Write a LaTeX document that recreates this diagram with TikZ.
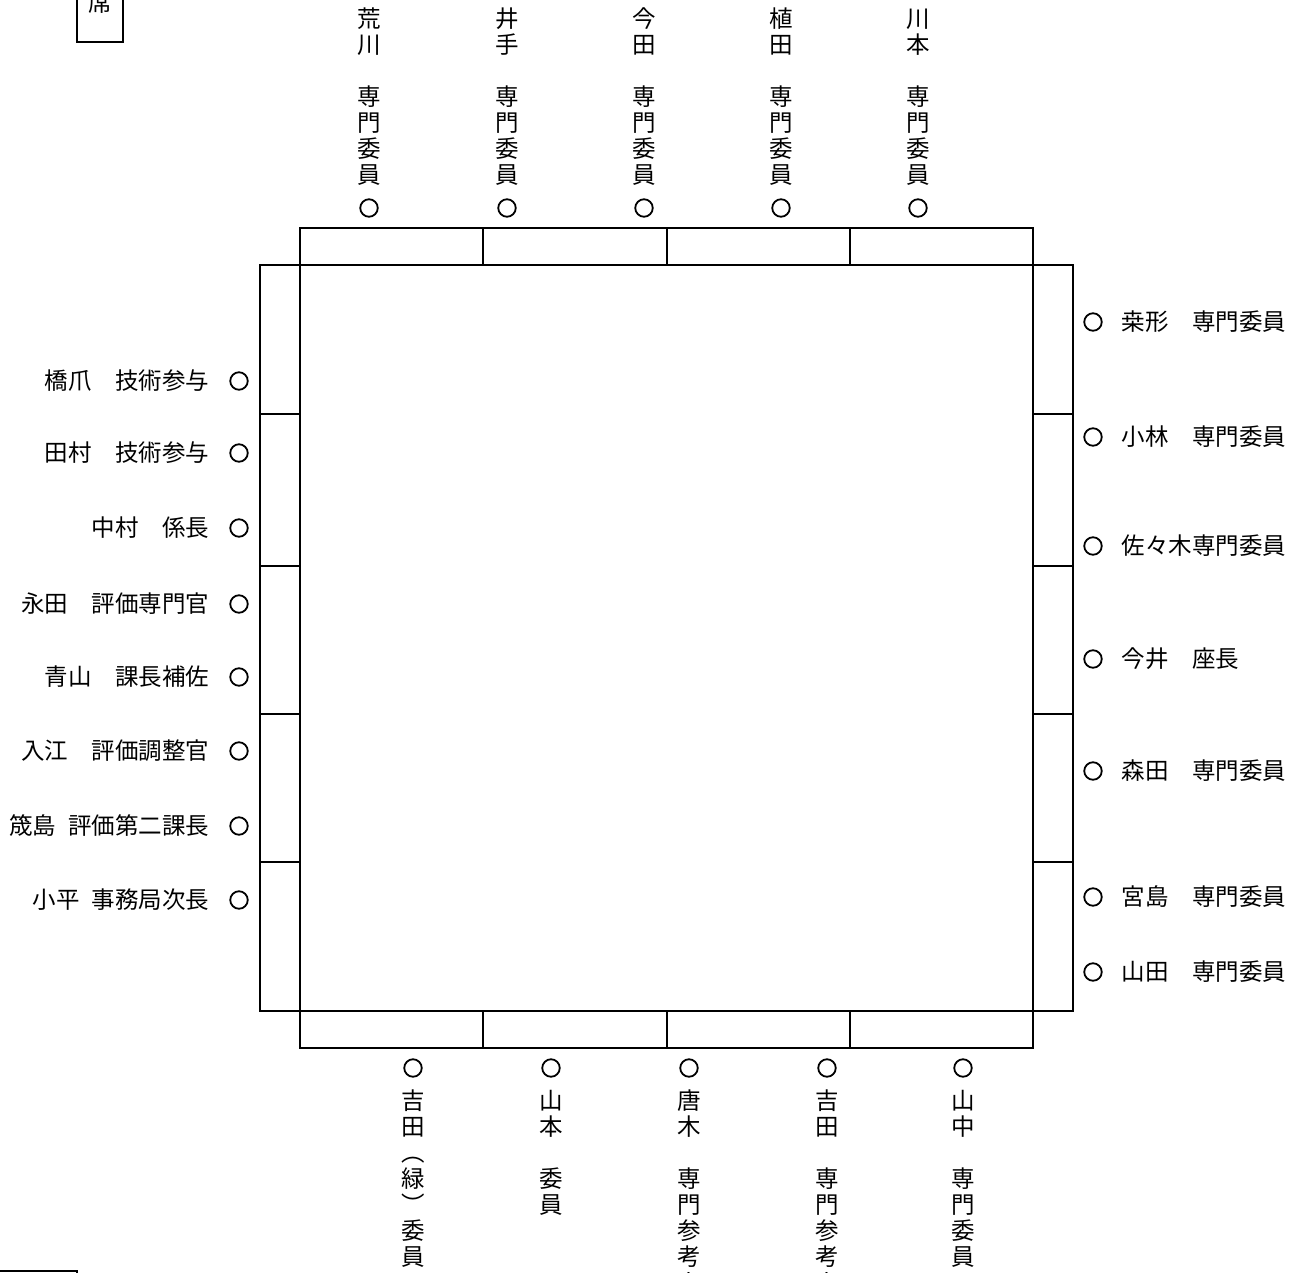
\documentclass[tikz,border=0pt]{standalone}
\usepackage{fontspec}
\newfontfamily\jp{Noto Sans CJK JP}
\usetikzlibrary{positioning}

\tikzset{
  desk/.style={line width=1.8pt},
  seat/.style={circle, draw, line width=1.8pt, minimum size=17.5pt, inner sep=0pt},
  yoko/.style={font=\jp\fontsize{23.5}{26}\selectfont, inner sep=0pt},
  tate/.style={font=\jp\fontsize{23.5}{26}\selectfont, align=center, inner sep=0pt},
}

\begin{document}
\begin{tikzpicture}[x=1pt, y=-1pt, line join=miter]
    \useasboundingbox (0,0) rectangle (1304,1273);

    % 机（上・下・左・右）
    \draw[desk] (300,228) rectangle (1033,265);
    \draw[desk] (300,1011) rectangle (1033,1048);
    \draw[desk] (260,265) rectangle (300,1011);
    \draw[desk] (1033,265) rectangle (1073,1011);
    \foreach \x in {483,667,850} {
        \draw[desk] (\x,228) -- (\x,265);
        \draw[desk] (\x,1011) -- (\x,1048);
    }
    \foreach \y in {414,566,714,862} {
        \draw[desk] (260,\y) -- (300,\y);
        \draw[desk] (1033,\y) -- (1073,\y);
    }

    % 枠外の席
    \draw[desk] (77,-30) rectangle (123,42);
    \node[yoko] (seki) at (100,3) {席};
    \draw[desk] (-30,1271) rectangle (77,1330);

    % 上側
    \node[seat] (t1) at (369,208) {};
    \node[seat] (t2) at (507,208) {};
    \node[seat] (t3) at (644,208) {};
    \node[seat] (t4) at (781,208) {};
    \node[seat] (t5) at (918,208) {};
    \node[tate, above=13pt of t1] (t1n) {荒\\川\\[26pt]専\\門\\委\\員};
    \node[tate, above=13pt of t2] (t2n) {井\\手\\[26pt]専\\門\\委\\員};
    \node[tate, above=13pt of t3] (t3n) {今\\田\\[26pt]専\\門\\委\\員};
    \node[tate, above=13pt of t4] (t4n) {植\\田\\[26pt]専\\門\\委\\員};
    \node[tate, above=13pt of t5] (t5n) {川\\本\\[26pt]専\\門\\委\\員};

    % 下側
    \node[seat] (b1) at (413,1068) {};
    \node[seat] (b2) at (551,1068) {};
    \node[seat] (b3) at (689,1068) {};
    \node[seat] (b4) at (827,1068) {};
    \node[seat] (b5) at (963,1068) {};
    \node[tate, below=12pt of b1] (b1n) {吉\\田\\︵\\緑\\︶\\委\\員};
    \node[tate, below=12pt of b2] (b2n) {山\\本\\[26pt]委\\員};
    \node[tate, below=12pt of b3] (b3n) {唐\\木\\[26pt]専\\門\\参\\考\\人};
    \node[tate, below=12pt of b4] (b4n) {吉\\田\\[26pt]専\\門\\参\\考\\人};
    \node[tate, below=12pt of b5] (b5n) {山\\中\\[26pt]専\\門\\委\\員};

    % 左側
    \node[seat] (l1) at (239,381) {};
    \node[seat] (l2) at (239,453) {};
    \node[seat] (l3) at (239,528) {};
    \node[seat] (l4) at (239,604) {};
    \node[seat] (l5) at (239,677) {};
    \node[seat] (l6) at (239,751) {};
    \node[seat] (l7) at (239,826) {};
    \node[seat] (l8) at (239,900) {};
    \node[yoko, left=20pt of l1] (l1n) {橋爪　技術参与};
    \node[yoko, left=20pt of l2] (l2n) {田村　技術参与};
    \node[yoko, left=20pt of l3] (l3n) {中村　係長};
    \node[yoko, left=20pt of l4] (l4n) {永田　評価専門官};
    \node[yoko, left=20pt of l5] (l5n) {青山　課長補佐};
    \node[yoko, left=20pt of l6] (l6n) {入江　評価調整官};
    \node[yoko, left=20pt of l7] (l7n) {筬島\hspace{0.5em}評価第二課長};
    \node[yoko, left=20pt of l8] (l8n) {小平\hspace{0.5em}事務局次長};

    % 右側
    \node[seat] (r1) at (1093,322) {};
    \node[seat] (r2) at (1093,437) {};
    \node[seat] (r3) at (1093,546) {};
    \node[seat] (r4) at (1093,659) {};
    \node[seat] (r5) at (1093,771) {};
    \node[seat] (r6) at (1093,897) {};
    \node[seat] (r7) at (1093,972) {};
    \node[yoko, right=19pt of r1] (r1n) {桒形　専門委員};
    \node[yoko, right=19pt of r2] (r2n) {小林　専門委員};
    \node[yoko, right=19pt of r3] (r3n) {佐々木専門委員};
    \node[yoko, right=19pt of r4] (r4n) {今井　座長};
    \node[yoko, right=19pt of r5] (r5n) {森田　専門委員};
    \node[yoko, right=19pt of r6] (r6n) {宮島　専門委員};
    \node[yoko, right=19pt of r7] (r7n) {山田　専門委員};
\end{tikzpicture}
\end{document}
